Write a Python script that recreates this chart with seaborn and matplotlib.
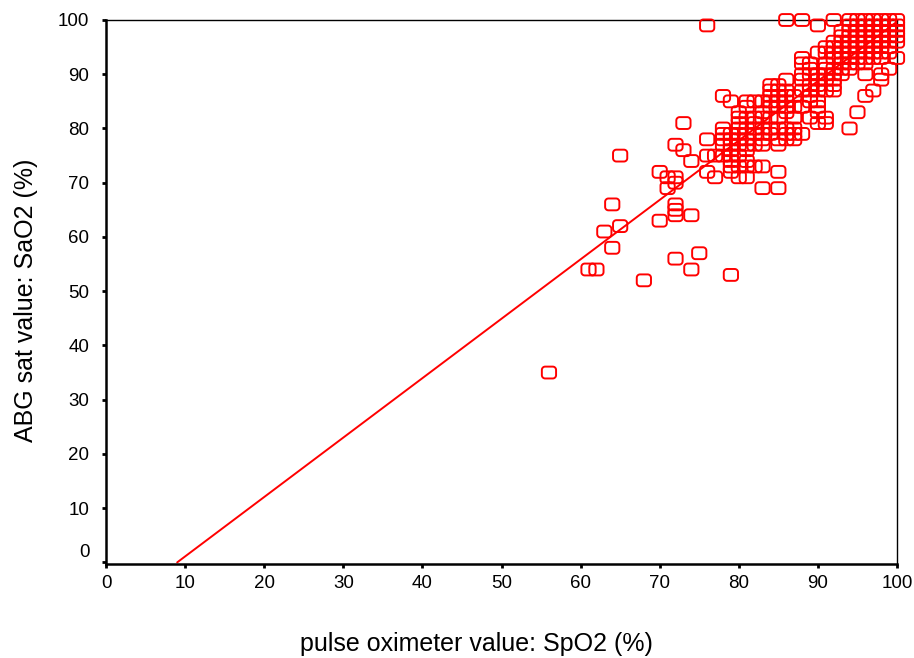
import matplotlib
matplotlib.use('Agg')
import matplotlib.pyplot as plt
import matplotlib.transforms as mtransforms
from matplotlib.markers import MarkerStyle
from matplotlib.path import Path
import numpy as np
import pandas as pd
import seaborn as sns

# pulse oximeter reading (x) and matching ABG saturation (y)
spo2 = [56,
        61, 62, 63, 64, 64, 65, 65, 68, 70, 70, 71, 71,
        72, 72, 72, 72, 72, 72, 72, 73, 73, 74, 74, 74, 75,
        76, 76, 76, 76, 77, 77,
        78, 78, 78, 78, 78, 78,
        79, 79, 79, 79, 79, 79, 79, 79, 79, 79,
        80, 80, 80, 80, 80, 80, 80, 80, 80, 80,
        81, 81, 81, 81, 81, 81, 81, 81, 81, 81,
        82, 82, 82, 82, 82, 82, 82,
        83, 83, 83, 83, 83, 83, 83, 83, 83,
        84, 84, 84, 84, 84, 84, 84, 84,
        85, 85, 85, 85, 85, 85, 85, 85, 85, 85, 85,
        86, 86, 86, 86, 86, 86, 86, 86, 86, 86,
        87, 87, 87, 87, 87, 87,
        88, 88, 88, 88, 88, 88, 88, 88,
        89, 89, 89, 89, 89, 89, 89, 89,
        90, 90, 90, 90, 90, 90, 90, 90, 90, 90,
        91, 91, 91, 91, 91, 91, 91, 91, 91,
        92, 92, 92, 92, 92, 92, 92, 92, 92, 92,
        93, 93, 93, 93, 93, 93, 93, 93, 93,
        94, 94, 94, 94, 94, 94, 94, 94, 94, 94, 94,
        95, 95, 95, 95, 95, 95, 95, 95, 95, 95,
        96, 96, 96, 96, 96, 96, 96, 96, 96, 96, 96,
        97, 97, 97, 97, 97, 97, 97, 97, 97,
        98, 98, 98, 98, 98, 98, 98, 98, 98, 98,
        99, 99, 99, 99, 99, 99, 99, 99,
        100, 100, 100, 100, 100, 100]
sao2 = [35,
        54, 54, 61, 58, 66, 62, 75, 52, 63, 72, 69, 71,
        56, 64, 65, 66, 70, 71, 77, 76, 81, 54, 64, 74, 57,
        72, 75, 78, 99, 71, 75,
        75, 77, 78, 79, 80, 86,
        53, 72, 73, 74, 75, 76, 77, 78, 79, 85,
        71, 73, 75, 77, 78, 79, 80, 81, 82, 83,
        71, 73, 74, 76, 77, 78, 80, 82, 84, 85,
        73, 77, 79, 80, 81, 82, 85,
        69, 73, 77, 78, 79, 80, 82, 83, 85,
        79, 80, 82, 84, 85, 86, 87, 88,
        69, 72, 77, 78, 80, 82, 84, 85, 86, 87, 88,
        78, 79, 80, 83, 84, 85, 86, 87, 89, 100,
        78, 79, 80, 82, 84, 86,
        79, 84, 87, 89, 90, 92, 93, 100,
        82, 85, 86, 87, 88, 90, 91, 92,
        81, 83, 84, 85, 87, 88, 89, 90, 94, 99,
        81, 82, 87, 89, 90, 91, 92, 94, 95,
        87, 88, 89, 90, 91, 93, 94, 95, 96, 100,
        90, 91, 92, 93, 94, 95, 96, 97, 98,
        80, 91, 92, 93, 94, 95, 96, 97, 98, 99, 100,
        83, 92, 93, 94, 95, 96, 97, 98, 99, 100,
        86, 90, 92, 93, 94, 95, 96, 97, 98, 99, 100,
        87, 93, 94, 95, 96, 97, 98, 99, 100,
        89, 90, 93, 94, 95, 96, 97, 98, 99, 100,
        91, 94, 95, 96, 97, 98, 99, 100,
        93, 96, 97, 98, 99, 100]

# fitted line end points
fit_x = [9, 100]
fit_y = [0, 99.7]

ticks = list(range(0, 101, 10))

df = pd.DataFrame({'spo2': spo2, 'sao2': sao2})

sns.set_style('white')
plt.rcParams['font.family'] = ['Liberation Sans', 'DejaVu Sans']


def rounded_box(hw=0.6, hh=0.5, r=0.28, n=8):
    # outline of a rounded rectangle, used as the scatter marker
    verts = []
    corners = [(hw - r, hh - r, 0), (-hw + r, hh - r, 90),
               (-hw + r, -hh + r, 180), (hw - r, -hh + r, 270)]
    for cx, cy, start in corners:
        for a in np.linspace(start, start + 90, n):
            t = np.deg2rad(a)
            verts.append((cx + r * np.cos(t), cy + r * np.sin(t)))
    verts.append(verts[0])
    codes = [Path.MOVETO] + [Path.LINETO] * (len(verts) - 2) + [Path.CLOSEPOLY]
    return Path(verts, codes)


fig = plt.figure(figsize=(9.14, 6.58), dpi=100)
ax = fig.add_axes([106 / 914, 1 - 564 / 658, 791 / 914, 544 / 658])

sns.scatterplot(data=df, x='spo2', y='sao2', marker=MarkerStyle(rounded_box()),
                s=105, color='red', ax=ax, clip_on=False, zorder=3)
pts = ax.collections[-1]
pts.set_facecolor('none')
pts.set_edgecolor('#ff0000')
pts.set_linewidth(1.4)

sns.lineplot(x=fit_x, y=fit_y, color='#ff0000', lw=1.4, ax=ax, zorder=2)

ax.set_xlim(0, 100)
ax.set_ylim(-0.3, 100)
ax.set_xticks(ticks)
ax.set_yticks(ticks)
ax.tick_params(axis='both', direction='out', length=3, width=2,
               bottom=True, left=True, color='black',
               labelsize=13.5, labelcolor='black')
ax.tick_params(axis='y', pad=9)
ax.tick_params(axis='x', pad=5)

for side in ['left', 'bottom']:
    ax.spines[side].set_linewidth(1.8)
    ax.spines[side].set_color('black')
for side in ['top', 'right']:
    ax.spines[side].set_linewidth(1.0)
    ax.spines[side].set_color('black')

# the "0" label on the y axis sits a bit above its tick
lbl0 = ax.get_yticklabels()[0]
lbl0.set_transform(lbl0.get_transform() +
                   mtransforms.ScaledTranslation(0, 12 / 100, fig.dpi_scale_trans))

ax.set_xlabel('pulse oximeter value: SpO2 (%)', fontsize=18, color='black')
ax.set_ylabel('ABG sat value: SaO2 (%)', fontsize=18, color='black')
ax.xaxis.set_label_coords(0.468, -0.125)
ax.yaxis.set_label_coords(-0.086, 0.484)

fig.savefig('out.png', dpi=100)
